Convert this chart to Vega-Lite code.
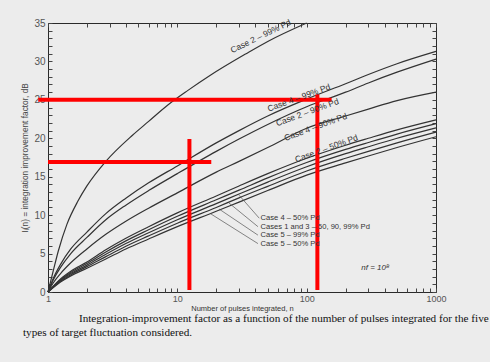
{
  "$schema": "https://vega.github.io/schema/vega-lite/v6.json",
  "width": 388,
  "height": 269,
  "autosize": "none",
  "padding": {"left": 48, "top": 23, "right": 54, "bottom": 70},
  "background": "#ececec",
  "config": {
    "view": {"stroke": "#2a2a2a", "strokeWidth": 1},
    "font": "Liberation Sans"
  },
  "title": {
    "text": ["\u200b\u00a0\u00a0\u00a0\u00a0\u00a0\u00a0\u00a0\u00a0\u00a0\u00a0\u00a0\u00a0\u00a0\u00a0\u00a0\u00a0\u00a0\u00a0\u00a0\u00a0Integration-improvement factor as a function of the number of pulses integrated for the five", "types of target fluctuation considered."],
    "orient": "bottom",
    "anchor": "start",
    "frame": "group",
    "dx": -25,
    "offset": 1,
    "font": "Liberation Serif",
    "fontSize": 11.2,
    "fontWeight": "normal",
    "color": "#111111",
    "lineHeight": 14
  },
  "datasets": {
    "curves": [
      {"s": "c2_99", "n": 1, "v": 0}, {"s": "c2_99", "n": 1.1, "v": 2.8}, {"s": "c2_99", "n": 1.2, "v": 5.3}, {"s": "c2_99", "n": 1.4, "v": 8.8}, {"s": "c2_99", "n": 1.7, "v": 11.8}, {"s": "c2_99", "n": 2, "v": 13.8}, {"s": "c2_99", "n": 2.8, "v": 17}, {"s": "c2_99", "n": 4.5, "v": 20.4}, {"s": "c2_99", "n": 6, "v": 22.2}, {"s": "c2_99", "n": 8.4, "v": 24.3}, {"s": "c2_99", "n": 12, "v": 26.2}, {"s": "c2_99", "n": 18, "v": 28.2}, {"s": "c2_99", "n": 34, "v": 31.0}, {"s": "c2_99", "n": 50, "v": 32.6}, {"s": "c2_99", "n": 100, "v": 35},
      {"s": "c4_99", "n": 1, "v": 0}, {"s": "c4_99", "n": 1.1, "v": 1.8}, {"s": "c4_99", "n": 1.25, "v": 3.6}, {"s": "c4_99", "n": 1.5, "v": 5.6}, {"s": "c4_99", "n": 2, "v": 7.8}, {"s": "c4_99", "n": 2.8, "v": 10.2}, {"s": "c4_99", "n": 4, "v": 12.2}, {"s": "c4_99", "n": 6, "v": 14.2}, {"s": "c4_99", "n": 10, "v": 16.4}, {"s": "c4_99", "n": 20, "v": 19.4}, {"s": "c4_99", "n": 30, "v": 21.0}, {"s": "c4_99", "n": 50, "v": 22.9}, {"s": "c4_99", "n": 100, "v": 25.1}, {"s": "c4_99", "n": 200, "v": 27.1}, {"s": "c4_99", "n": 300, "v": 28.3}, {"s": "c4_99", "n": 500, "v": 29.7}, {"s": "c4_99", "n": 1000, "v": 31.3},
      {"s": "c2_90", "n": 1, "v": 0}, {"s": "c2_90", "n": 1.1, "v": 1.6}, {"s": "c2_90", "n": 1.25, "v": 3.2}, {"s": "c2_90", "n": 1.5, "v": 5.0}, {"s": "c2_90", "n": 2, "v": 7.1}, {"s": "c2_90", "n": 2.8, "v": 9.4}, {"s": "c2_90", "n": 4, "v": 11.3}, {"s": "c2_90", "n": 6, "v": 13.2}, {"s": "c2_90", "n": 10, "v": 15.4}, {"s": "c2_90", "n": 20, "v": 18.3}, {"s": "c2_90", "n": 30, "v": 19.9}, {"s": "c2_90", "n": 50, "v": 21.8}, {"s": "c2_90", "n": 100, "v": 24.1}, {"s": "c2_90", "n": 200, "v": 26.0}, {"s": "c2_90", "n": 300, "v": 27.2}, {"s": "c2_90", "n": 500, "v": 28.6}, {"s": "c2_90", "n": 1000, "v": 30.3},
      {"s": "c4_90", "n": 1, "v": 0}, {"s": "c4_90", "n": 1.1, "v": 1.2}, {"s": "c4_90", "n": 1.25, "v": 2.4}, {"s": "c4_90", "n": 1.5, "v": 3.8}, {"s": "c4_90", "n": 2, "v": 5.6}, {"s": "c4_90", "n": 2.8, "v": 7.5}, {"s": "c4_90", "n": 4, "v": 9.2}, {"s": "c4_90", "n": 6, "v": 10.9}, {"s": "c4_90", "n": 10, "v": 12.9}, {"s": "c4_90", "n": 20, "v": 15.6}, {"s": "c4_90", "n": 30, "v": 17.0}, {"s": "c4_90", "n": 50, "v": 18.8}, {"s": "c4_90", "n": 100, "v": 21.3}, {"s": "c4_90", "n": 200, "v": 22.9}, {"s": "c4_90", "n": 300, "v": 23.8}, {"s": "c4_90", "n": 500, "v": 24.9}, {"s": "c4_90", "n": 1000, "v": 26.0},
      {"s": "c2_50", "n": 1, "v": 0}, {"s": "c2_50", "n": 1.25, "v": 1.7}, {"s": "c2_50", "n": 1.5, "v": 2.7}, {"s": "c2_50", "n": 2, "v": 3.9}, {"s": "c2_50", "n": 2.8, "v": 5.5}, {"s": "c2_50", "n": 4, "v": 7.0}, {"s": "c2_50", "n": 6, "v": 8.5}, {"s": "c2_50", "n": 10, "v": 10.3}, {"s": "c2_50", "n": 20, "v": 12.5}, {"s": "c2_50", "n": 30, "v": 13.8}, {"s": "c2_50", "n": 50, "v": 15.4}, {"s": "c2_50", "n": 100, "v": 17.4}, {"s": "c2_50", "n": 200, "v": 19.1}, {"s": "c2_50", "n": 300, "v": 20.0}, {"s": "c2_50", "n": 500, "v": 21.1}, {"s": "c2_50", "n": 1000, "v": 22.4},
      {"s": "c4_50", "n": 1, "v": 0}, {"s": "c4_50", "n": 1.25, "v": 1.6}, {"s": "c4_50", "n": 1.5, "v": 2.55}, {"s": "c4_50", "n": 2, "v": 3.7}, {"s": "c4_50", "n": 2.8, "v": 5.2}, {"s": "c4_50", "n": 4, "v": 6.65}, {"s": "c4_50", "n": 6, "v": 8.1}, {"s": "c4_50", "n": 10, "v": 9.85}, {"s": "c4_50", "n": 20, "v": 12.0}, {"s": "c4_50", "n": 30, "v": 13.25}, {"s": "c4_50", "n": 50, "v": 14.85}, {"s": "c4_50", "n": 100, "v": 16.85}, {"s": "c4_50", "n": 200, "v": 18.55}, {"s": "c4_50", "n": 300, "v": 19.45}, {"s": "c4_50", "n": 500, "v": 20.55}, {"s": "c4_50", "n": 1000, "v": 21.9},
      {"s": "c13", "n": 1, "v": 0}, {"s": "c13", "n": 1.25, "v": 1.5}, {"s": "c13", "n": 1.5, "v": 2.4}, {"s": "c13", "n": 2, "v": 3.5}, {"s": "c13", "n": 2.8, "v": 4.9}, {"s": "c13", "n": 4, "v": 6.3}, {"s": "c13", "n": 6, "v": 7.7}, {"s": "c13", "n": 10, "v": 9.4}, {"s": "c13", "n": 20, "v": 11.5}, {"s": "c13", "n": 30, "v": 12.75}, {"s": "c13", "n": 50, "v": 14.3}, {"s": "c13", "n": 100, "v": 16.3}, {"s": "c13", "n": 200, "v": 18.0}, {"s": "c13", "n": 300, "v": 18.9}, {"s": "c13", "n": 500, "v": 20.0}, {"s": "c13", "n": 1000, "v": 21.35},
      {"s": "c5_99", "n": 1, "v": 0}, {"s": "c5_99", "n": 1.25, "v": 1.4}, {"s": "c5_99", "n": 1.5, "v": 2.25}, {"s": "c5_99", "n": 2, "v": 3.3}, {"s": "c5_99", "n": 2.8, "v": 4.6}, {"s": "c5_99", "n": 4, "v": 5.95}, {"s": "c5_99", "n": 6, "v": 7.3}, {"s": "c5_99", "n": 10, "v": 8.95}, {"s": "c5_99", "n": 20, "v": 11.0}, {"s": "c5_99", "n": 30, "v": 12.25}, {"s": "c5_99", "n": 50, "v": 13.75}, {"s": "c5_99", "n": 100, "v": 15.75}, {"s": "c5_99", "n": 200, "v": 17.4}, {"s": "c5_99", "n": 300, "v": 18.3}, {"s": "c5_99", "n": 500, "v": 19.4}, {"s": "c5_99", "n": 1000, "v": 20.8},
      {"s": "c5_50", "n": 1, "v": 0}, {"s": "c5_50", "n": 1.25, "v": 1.3}, {"s": "c5_50", "n": 1.5, "v": 2.1}, {"s": "c5_50", "n": 2, "v": 3.1}, {"s": "c5_50", "n": 2.8, "v": 4.3}, {"s": "c5_50", "n": 4, "v": 5.6}, {"s": "c5_50", "n": 6, "v": 6.9}, {"s": "c5_50", "n": 10, "v": 8.5}, {"s": "c5_50", "n": 20, "v": 10.5}, {"s": "c5_50", "n": 30, "v": 11.7}, {"s": "c5_50", "n": 50, "v": 13.2}, {"s": "c5_50", "n": 100, "v": 15.2}, {"s": "c5_50", "n": 200, "v": 16.8}, {"s": "c5_50", "n": 300, "v": 17.7}, {"s": "c5_50", "n": 500, "v": 18.8}, {"s": "c5_50", "n": 1000, "v": 20.2}
    ],
    "red": [
      {"n": 0.84, "n2": 156, "v": 25.0, "v2": 25.0},
      {"n": 1.0, "n2": 18.3, "v": 16.9, "v2": 16.9},
      {"n": 12.4, "n2": 12.4, "v": 19.9, "v2": 0.26},
      {"n": 121, "n2": 121, "v": 25.7, "v2": 0.26}
    ],
    "toplabel": [
      {"t": "Case 2 – 99% Pd", "n": 44, "v": 33.3}
    ],
    "caselabels": [
      {"t": "Case 4 – 99% Pd", "n": 87, "v": 25.3},
      {"t": "Case 2 – 90% Pd", "n": 101, "v": 23.4},
      {"t": "Case 4 – 90% Pd", "n": 117, "v": 21.5},
      {"t": "Case 2 – 50% Pd", "n": 142, "v": 18.7}
    ],
    "legend": [
      {"t": "Case 4 – 50% Pd", "n": 44, "v": 9.6},
      {"t": "Cases 1 and 3 – 50, 90, 99% Pd", "n": 44, "v": 8.5},
      {"t": "Case 5 – 99% Pd", "n": 44, "v": 7.4},
      {"t": "Case 5 – 50% Pd", "n": 44, "v": 6.3}
    ],
    "leaders": [
      {"n": 30, "n2": 43, "v": 12.6, "v2": 9.6},
      {"n": 25, "n2": 42, "v": 11.6, "v2": 8.5},
      {"n": 21, "n2": 42, "v": 10.8, "v2": 7.4},
      {"n": 18, "n2": 42, "v": 10.2, "v2": 6.3}
    ],
    "note": [
      {"t": "nf = 10⁸", "n": 340, "v": 3.1}
    ]
  },
  "layer": [
    {
      "data": {"name": "curves"},
      "mark": {"type": "line", "interpolate": "monotone", "color": "#333333", "strokeWidth": 1.2},
      "encoding": {
        "x": {
          "field": "n", "type": "quantitative",
          "scale": {"type": "log", "domain": [1, 1000], "nice": false},
          "axis": {
            "orient": "bottom", "offset": -4,
            "values": [1,2,3,4,5,6,7,8,9,10,20,30,40,50,60,70,80,90,100,200,300,400,500,600,700,800,900,1000],
            "labels": false, "tickSize": 4, "tickColor": "#444444", "domain": false, "grid": false, "title": null
          }
        },
        "y": {
          "field": "v", "type": "quantitative",
          "scale": {"domain": [0, 35], "nice": false},
          "axis": {
            "orient": "left", "offset": -4,
            "values": [0,1,2,3,4,5,6,7,8,9,10,11,12,13,14,15,16,17,18,19,20,21,22,23,24,25,26,27,28,29,30,31,32,33,34,35],
            "labels": false, "tickSize": 4, "tickColor": "#444444", "domain": false, "grid": false, "title": null
          }
        },
        "detail": {"field": "s", "type": "nominal"}
      }
    },
    {
      "data": {"name": "red"},
      "mark": {"type": "rule", "color": "#ff0000", "strokeWidth": 4},
      "encoding": {
        "x": {
          "field": "n", "type": "quantitative",
          "axis": {
            "orient": "top", "offset": -4,
            "values": [1,2,3,4,5,6,7,8,9,10,20,30,40,50,60,70,80,90,100,200,300,400,500,600,700,800,900,1000],
            "labels": false, "tickSize": 4, "tickColor": "#444444", "domain": false, "grid": false, "title": null
          }
        },
        "x2": {"field": "n2"},
        "y": {
          "field": "v", "type": "quantitative",
          "axis": {
            "orient": "right", "offset": -4,
            "values": [0,1,2,3,4,5,6,7,8,9,10,11,12,13,14,15,16,17,18,19,20,21,22,23,24,25,26,27,28,29,30,31,32,33,34,35],
            "labels": false, "tickSize": 4, "tickColor": "#444444", "domain": false, "grid": false, "title": null
          }
        },
        "y2": {"field": "v2"}
      }
    },
    {
      "data": {"name": "leaders"},
      "mark": {"type": "rule", "color": "#555555", "strokeWidth": 0.7},
      "encoding": {
        "x": {
          "field": "n", "type": "quantitative",
          "axis": {
            "orient": "bottom",
            "values": [1, 10, 100, 1000],
            "format": "d",
            "labelOverlap": false,
            "labelFlush": false,
            "ticks": false,
            "labelPadding": 2,
            "labelFontSize": 9,
            "labelColor": "#555555",
            "domain": false,
            "grid": false,
            "title": "Number of pulses integrated, n",
            "titleFontSize": 7.5,
            "titleFontWeight": "normal",
            "titleColor": "#333333",
            "titlePadding": 1
          }
        },
        "x2": {"field": "n2"},
        "y": {
          "field": "v", "type": "quantitative",
          "axis": {
            "orient": "left",
            "values": [0, 5, 10, 15, 20, 25, 30, 35],
            "labelOverlap": false,
            "ticks": false,
            "labelPadding": 3,
            "labelFontSize": 10,
            "labelColor": "#555555",
            "domain": false,
            "grid": false,
            "title": "Iᵢ(n) = integration improvement factor, dB",
            "titleFontSize": 8.3,
            "titleFontWeight": "normal",
            "titleColor": "#444444",
            "titlePadding": 4
          }
        },
        "y2": {"field": "v2"}
      }
    },
    {
      "data": {"name": "toplabel"},
      "mark": {"type": "text", "angle": 334, "fontSize": 8.5, "color": "#333333", "align": "center", "baseline": "middle"},
      "encoding": {
        "x": {"field": "n", "type": "quantitative", "axis": null},
        "y": {"field": "v", "type": "quantitative", "axis": null},
        "text": {"field": "t"}
      }
    },
    {
      "data": {"name": "caselabels"},
      "mark": {"type": "text", "angle": 340, "fontSize": 8.5, "color": "#333333", "align": "center", "baseline": "middle"},
      "encoding": {
        "x": {"field": "n", "type": "quantitative", "axis": null},
        "y": {"field": "v", "type": "quantitative", "axis": null},
        "text": {"field": "t"}
      }
    },
    {
      "data": {"name": "legend"},
      "mark": {"type": "text", "fontSize": 7.6, "color": "#333333", "align": "left", "baseline": "middle"},
      "encoding": {
        "x": {"field": "n", "type": "quantitative", "axis": null},
        "y": {"field": "v", "type": "quantitative", "axis": null},
        "text": {"field": "t"}
      }
    },
    {
      "data": {"name": "note"},
      "mark": {"type": "text", "fontSize": 8, "fontStyle": "italic", "color": "#333333", "align": "center", "baseline": "middle"},
      "encoding": {
        "x": {"field": "n", "type": "quantitative", "axis": null},
        "y": {"field": "v", "type": "quantitative", "axis": null},
        "text": {"field": "t"}
      }
    }
  ],
  "resolve": {"axis": {"x": "independent", "y": "independent"}}
}
